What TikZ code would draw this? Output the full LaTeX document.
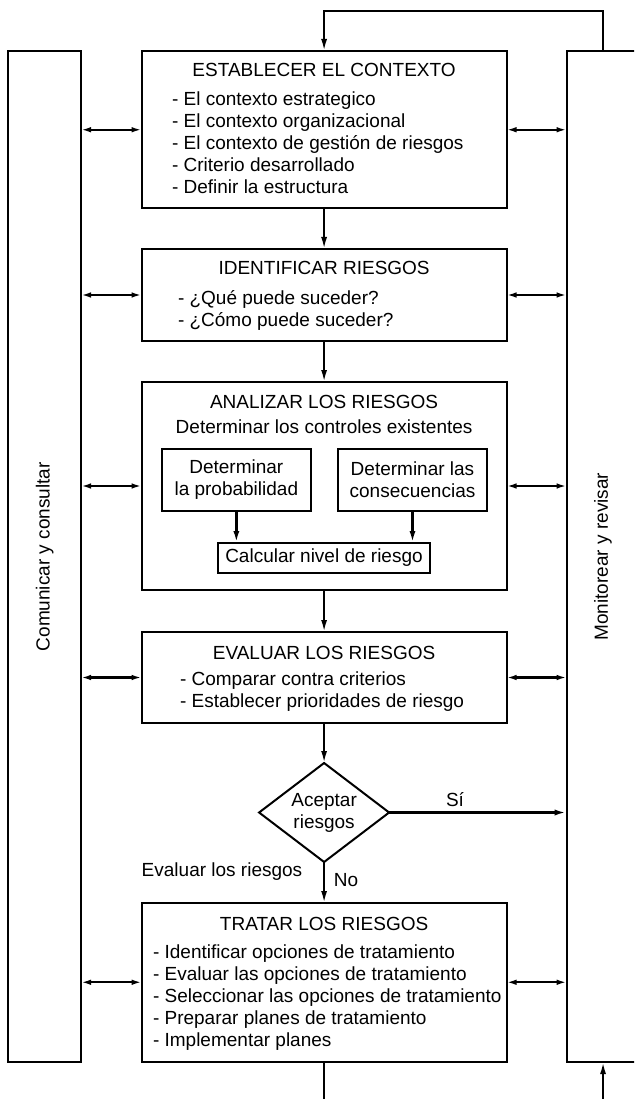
\documentclass[tikz,border=0pt]{standalone}
\usepackage{fontspec}
\setmainfont{Liberation Sans}
\usetikzlibrary{arrows.meta,shapes.geometric}
\begin{document}
\begin{tikzpicture}[x=1pt,y=-1pt,
  every node/.style={font=\fontsize{19}{22}\selectfont, inner sep=0pt, outer sep=0pt},
  box/.style={draw, line width=2pt, minimum width=364.8pt},
  side/.style={draw, line width=2pt, minimum width=72.7pt, minimum height=1010.5pt},
  sub/.style={draw, line width=2.3pt, align=center},
  line/.style={line width=2pt},
  arr/.style={line width=2pt, -{Latex[length=12pt,width=6pt]}},
  dbl/.style={line width=2.2pt, {Latex[length=10pt,width=5.5pt]}-{Latex[length=10pt,width=5.5pt]}}
]
\useasboundingbox (0,0) rectangle (634,1099);
\clip (0,0) rectangle (634,1099);

% side boxes
\node[side] (com) at (44.65,556.75) {};
\node[side] (mon) at (603.05,556.75) {};
\node[rotate=90] (comT) at (com.center) {Comunicar y consultar};
\node[rotate=90] (monT) at (mon.center) {Monitorear y revisar};

% main boxes
\node[box, minimum height=157.5pt] (ctx) at (324.1,129.75) {};
\node[box, minimum height=92pt] (idr) at (324.1,295) {};
\node[box, minimum height=208pt] (ana) at (324.1,486) {};
\node[box, minimum height=91pt] (eva) at (324.1,677.5) {};
\node[box, minimum height=158.5pt] (tra) at (324.1,982.25) {};

% titles
\node[anchor=base] (ctxT) at (324.1,77) {ESTABLECER EL CONTEXTO};
\node[anchor=base] (idrT) at (324.1,274) {IDENTIFICAR RIESGOS};
\node[anchor=base] (anaT) at (324.1,408) {ANALIZAR LOS RIESGOS};
\node[anchor=base] (anaS) at (324.1,433) {Determinar los controles existentes};
\node[anchor=base] (evaT) at (324.1,659) {EVALUAR LOS RIESGOS};
\node[anchor=base] (traT) at (324.1,930) {TRATAR LOS RIESGOS};

% body lines
\foreach \t [count=\i from 0] in {- El contexto estrategico, - El contexto organizacional, - El contexto de gestión de riesgos, - Criterio desarrollado, - Definir la estructura}
  \node[anchor=base west] (ctxl\i) at (172,106+22*\i) {\t};
\foreach \t [count=\i from 0] in {- ¿Qué puede suceder?, - ¿Cómo puede suceder?}
  \node[anchor=base west] (idrl\i) at (178,304+22*\i) {\t};
\foreach \t [count=\i from 0] in {- Comparar contra criterios, - Establecer prioridades de riesgo}
  \node[anchor=base west] (eval\i) at (180,685+22.5*\i) {\t};
\foreach \t [count=\i from 0] in {- Identificar opciones de tratamiento, - Evaluar las opciones de tratamiento, - Seleccionar las opciones de tratamiento, - Preparar planes de tratamiento, - Implementar planes}
  \node[anchor=base west] (tral\i) at (153,958+22*\i) {\t};

% sub boxes
\node[sub, minimum width=149.3pt, minimum height=62pt] (p1) at (236.35,480) {Determinar\\la probabilidad};
\node[sub, minimum width=149pt, minimum height=62pt] (p2) at (412.5,480) {Determinar las\\consecuencias};
\node[sub, minimum width=212pt, minimum height=30pt] (calc) at (324,558) {Calcular nivel de riesgo};

% decision
\node[draw, diamond, line width=2pt, minimum width=130pt, minimum height=99pt, aspect=1.313, align=center] (acc) at (324.1,812.5) {Aceptar\\riesgos};

% labels
\node (si) at (455,800) {Sí};
\node (no) at (346,880) {No};
\node (evl) at (222,872) {Evaluar los riesgos};

% main flow
\draw[arr] (ctx.south) -- (idr.north);
\draw[arr] (idr.south) -- (ana.north);
\draw[arr] (ana.south) -- (eva.north);
\draw[arr] (eva.south) -- (acc.north);
\draw[arr] (acc.south) -- (tra.north);
\draw[arr, line width=2.4pt] (acc.east) -- (acc.east -| mon.west);
\draw[arr, line width=2.3pt] (p1.south) -- (p1.south |- calc.north);
\draw[arr, line width=2.3pt] (p2.south) -- (p2.south |- calc.north);

% loop
\draw[arr] (mon.north) -- ++(0,-40.5) -| (ctx.north);
\coordinate (tb) at (324.1,1100);
\coordinate (mb) at (603.05,1100);
\draw[line] (tra.south) -- (tb);
\draw[arr] (mb) -- (mon.south);

% side exchanges
\foreach \b in {ctx,idr,ana,eva,tra} {
  \draw[dbl] (com.east |- \b.west) -- (\b.west);
  \draw[dbl] (\b.east) -- (mon.west |- \b.east);
}
\end{tikzpicture}
\end{document}
